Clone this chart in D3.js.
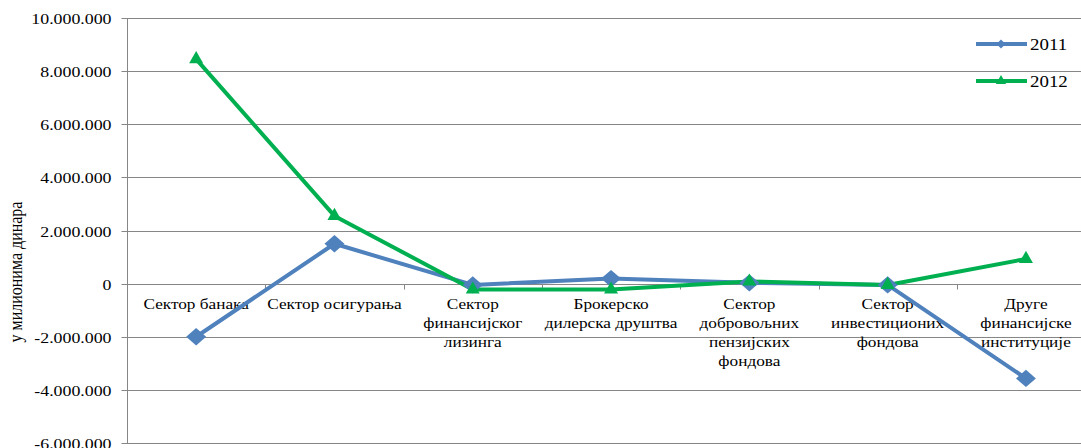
<!DOCTYPE html>
<html>
<head>
<meta charset="utf-8">
<script src="https://cdn.jsdelivr.net/npm/d3@7"></script>
<style>
  html, body { margin: 0; padding: 0; background: #fff; overflow: hidden; }
  svg { display: block; }
  svg text { font-family: "Liberation Serif", "Times New Roman", serif !important; fill: #000; }
</style>
</head>
<body>
<svg id="chart" width="1081" height="448"></svg>
<script>
const categories = [
  "Сектор банака",
  "Сектор осигурања",
  "Сектор финансијског лизинга",
  "Брокерско дилерска друштва",
  "Сектор добровољних пензијских фондова",
  "Сектор инвестиционих фондова",
  "Друге финансијске институције"
];
const categoryLines = [
  ["Сектор банака"],
  ["Сектор осигурања"],
  ["Сектор", "финансијског", "лизинга"],
  ["Брокерско", "дилерска друштва"],
  ["Сектор", "добровољних", "пензијских", "фондова"],
  ["Сектор", "инвестиционих", "фондова"],
  ["Друге", "финансијске", "институције"]
];
const series2011 = [-2000000, 1500000, -50000, 190000, 30000, -50000, -3570000];
const series2012 = [8450000, 2550000, -220000, -220000, 80000, -50000, 930000];
const yTicks = [-6000000, -4000000, -2000000, 0, 2000000, 4000000, 6000000, 8000000, 10000000];
const yTickLabels = ["-6.000.000", "-4.000.000", "-2.000.000", "0", "2.000.000", "4.000.000", "6.000.000", "8.000.000", "10.000.000"];
const seriesNames = ["2011", "2012"];
const yTitle = "у милионима динара";

const svg = d3.select("#chart");
const mLeft = 127, mTop = 18, bandW = 138.3;
const mRight = mLeft + bandW * categories.length, mBottom = 443;
const gridColor = "#868686";
const colors = ["#4F81BD", "#00B050"];
const sx = 1.15; // horizontal stretch of text seen in the reference

const x = d3.scaleBand().domain(categories).range([mLeft, mRight]).padding(0);
const y = d3.scaleLinear().domain([-6000000, 10000000]).range([mBottom, mTop]);

// gridlines
svg.append("g").selectAll("line").data(yTicks).join("line")
  .attr("x1", mLeft).attr("x2", mRight)
  .attr("y1", d => Math.round(y(d)) + 0.5).attr("y2", d => Math.round(y(d)) + 0.5)
  .attr("stroke", gridColor).attr("stroke-width", 1);

// y axis
const yAxis = d3.axisLeft(y).tickValues(yTicks)
  .tickFormat((d, i) => yTickLabels[i]).tickSize(6).tickPadding(10);
const gy = svg.append("g").attr("transform", `translate(${mLeft + 0.5},0)`).call(yAxis);
gy.select(".domain").attr("stroke", gridColor).attr("d", `M0,${y(-6000000)}V${y(10000000)}`);
gy.selectAll(".tick line").attr("stroke", gridColor);
gy.selectAll(".tick").attr("transform", d => `translate(0,${Math.round(y(d)) + 0.5})`);
gy.selectAll(".tick text")
  .attr("font-size", 15.5)
  .attr("x", null).attr("dy", "0.34em")
  .attr("transform", `translate(-16,0) scale(${sx},1)`);

// category axis at 0
const y0 = Math.round(y(0)) + 0.5;
const gx = svg.append("g");
gx.selectAll("line").data(d3.range(categories.length + 1)).join("line")
  .attr("x1", i => Math.round(mLeft + i * bandW) + 0.5).attr("x2", i => Math.round(mLeft + i * bandW) + 0.5)
  .attr("y1", y0).attr("y2", y0 + 5).attr("stroke", gridColor);
const labels = gx.selectAll("text").data(categories).join("text")
  .attr("text-anchor", "middle").attr("font-size", 15)
  .attr("transform", d => `translate(${x(d) + x.bandwidth() / 2},${y0 + 24}) scale(${sx},1)`);
labels.each(function(d, i) {
  const t = d3.select(this);
  categoryLines[i].forEach((ln, j) => {
    t.append("tspan").attr("x", 0).attr("y", j * 19.3).text(ln);
  });
});

// y title
svg.append("text").attr("transform", `translate(22,${272}) rotate(-90) scale(1,${sx})`)
  .attr("text-anchor", "middle").attr("font-size", 16).text(yTitle);

// lines
const line = d3.line().x((d, i) => x(categories[i]) + x.bandwidth() / 2).y(d => y(d));
const allSeries = [series2011, series2012];
allSeries.forEach((s, k) => {
  svg.append("path").datum(s).attr("d", line).attr("fill", "none")
    .attr("stroke", colors[k]).attr("stroke-width", 4).attr("stroke-linejoin", "round");
});
// markers
const diamond = d3.symbol().type(d3.symbolSquare).size(150);
const tri = d3.symbol().type(d3.symbolTriangle).size(85);
svg.append("g").selectAll("path").data(series2011).join("path")
  .attr("d", diamond)
  .attr("transform", (d, i) => `translate(${x(categories[i]) + x.bandwidth() / 2},${y(d)}) scale(1.15,1) rotate(45)`)
  .attr("fill", colors[0]);
svg.append("g").selectAll("path").data(series2012).join("path")
  .attr("d", tri)
  .attr("transform", (d, i) => `translate(${x(categories[i]) + x.bandwidth() / 2},${y(d)})`)
  .attr("fill", colors[1]);

// legend
const lg = svg.append("g");
seriesNames.forEach((n, k) => {
  const ly = 44 + k * 37;
  lg.append("line").attr("x1", 976).attr("x2", 1027).attr("y1", ly).attr("y2", ly)
    .attr("stroke", colors[k]).attr("stroke-width", 4);
  lg.append("path").attr("d", k === 0 ? d3.symbol().type(d3.symbolSquare).size(40)() : d3.symbol().type(d3.symbolTriangle).size(45)())
    .attr("transform", `translate(1001,${ly})${k === 0 ? " rotate(45)" : ""}`).attr("fill", colors[k]);
  lg.append("text").attr("transform", `translate(1030,${ly + 6}) scale(1.08,1)`)
    .attr("font-size", 17.5).text(n);
});
</script>
</body>
</html>
